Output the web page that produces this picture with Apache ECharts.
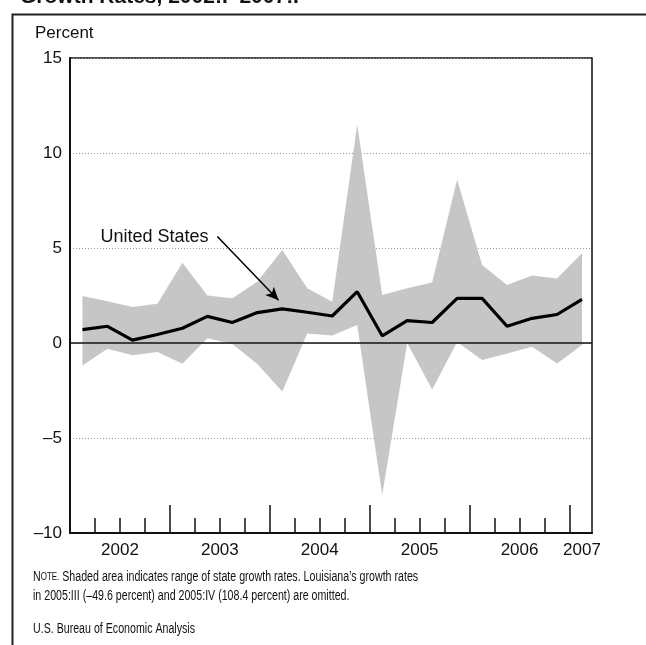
<!DOCTYPE html>
<html>
<head>
<meta charset="utf-8">
<script src="https://cdn.jsdelivr.net/npm/echarts@6/dist/echarts.min.js"></script>
<style>
  html, body { margin: 0; padding: 0; background: #fff; }
  #chart { width: 646px; height: 645px; }
</style>
</head>
<body>
<div id="chart"></div>
<script>
// quarters 2002:I .. 2007:I
var quarters = ['2002:I','2002:II','2002:III','2002:IV','2003:I','2003:II','2003:III','2003:IV',
  '2004:I','2004:II','2004:III','2004:IV','2005:I','2005:II','2005:III','2005:IV',
  '2006:I','2006:II','2006:III','2006:IV','2007:I'];
// United States growth rate
var usValues = [0.7, 0.88, 0.15, 0.45, 0.78, 1.4, 1.08, 1.6, 1.8, 1.62, 1.42, 2.7,
  0.38, 1.18, 1.08, 2.35, 2.35, 0.88, 1.3, 1.5, 2.3];
// range of state growth rates
var stateHigh = [2.47, 2.2, 1.89, 2.07, 4.23, 2.5, 2.35, 3.23, 4.89, 2.88, 2.17, 11.5,
  2.53, 2.88, 3.18, 8.6, 4.1, 3.05, 3.55, 3.4, 4.72];
var stateLow = [-1.18, -0.3, -0.65, -0.47, -1.09, 0.25, -0.05, -1.1, -2.55, 0.5, 0.4, 0.95,
  -8.0, 0.0, -2.45, 0.05, -0.9, -0.55, -0.2, -1.08, -0.1];
var yearLabels = ['2002', '2003', '2004', '2005', '2006', '2007'];
var yearLabelPos = [1.5, 5.5, 9.5, 13.5, 17.5, 20];
var yearTicks = [3.5, 7.5, 11.5, 15.5, 19.5];
var quarterTicks = [0.5, 1.5, 2.5, 4.5, 5.5, 6.5, 8.5, 9.5, 10.5, 12.5, 13.5, 14.5, 16.5, 17.5, 18.5];

var font = '"Liberation Sans", Arial, Helvetica, sans-serif';

var rangeData = quarters.map(function (q, i) { return [i, stateLow[i], stateHigh[i]]; });
var usData = usValues.map(function (v, i) { return [i, v]; });

// whole range band as one polygon, through the axis scales
function renderBand(params, api) {
  if (params.dataIndex !== 0) return;
  var pts = [];
  for (var i = 0; i < stateHigh.length; i++) pts.push(api.coord([i, stateHigh[i]]));
  for (var j = stateLow.length - 1; j >= 0; j--) pts.push(api.coord([j, stateLow[j]]));
  return { type: 'polygon', shape: { points: pts }, style: { fill: '#c6c6c6' } };
}

var noteStyle = { font: '14px ' + font, fill: '#111' };

var chart = echarts.init(document.getElementById('chart'));
var option = {
  animation: false,
  backgroundColor: '#fff',
  grid: { left: 70, right: 54, top: 58, bottom: 112, show: true, borderColor: '#111', borderWidth: 1.5, backgroundColor: 'transparent' },
  xAxis: [{
    type: 'value', min: -0.5, max: 20.4,
    axisLine: { show: true, onZero: false, lineStyle: { color: '#111', width: 2 } },
    axisTick: { show: true, inside: true, length: 15, customValues: quarterTicks, lineStyle: { color: '#111', width: 1.5 } },
    axisLabel: {
      show: true, customValues: yearLabelPos, margin: 9, color: '#111', fontSize: 17, fontFamily: font,
      formatter: function (v) {
        var k = yearLabelPos.indexOf(v);
        return k >= 0 ? yearLabels[k] : '';
      }
    },
    splitLine: { show: false }
  }, {
    type: 'value', min: -0.5, max: 20.4, position: 'bottom',
    axisLine: { show: false, onZero: false },
    axisTick: { show: true, inside: true, length: 28, customValues: yearTicks, lineStyle: { color: '#111', width: 1.5 } },
    axisLabel: { show: false },
    splitLine: { show: false }
  }],
  yAxis: {
    type: 'value', min: -10, max: 15, interval: 5,
    axisLine: { show: true, onZero: false, lineStyle: { color: '#111', width: 2 } },
    axisTick: { show: false },
    axisLabel: {
      color: '#111', fontSize: 17, fontFamily: font, margin: 8,
      formatter: function (v) { return v < 0 ? '\u2013' + Math.abs(v) : String(v); }
    },
    splitLine: { show: true, lineStyle: { color: '#999', type: [1, 2], width: 1 } }
  },
  series: [{
    name: 'range', type: 'custom', renderItem: renderBand, data: rangeData,
    encode: { x: 0, y: [1, 2] }, silent: true, z: 1
  }, {
    name: 'United States', type: 'line', data: usData, symbol: 'none',
    lineStyle: { color: '#000', width: 3.2 }, z: 5,
    markLine: {
      silent: true, symbol: ['none', 'none'], animation: false,
      label: { show: false },
      lineStyle: { color: '#111', width: 1.5, type: 'solid' },
      data: [{ yAxis: 0 }]
    }
  }, {
    name: 'arrow', type: 'line', data: [], symbol: 'none', z: 6,
    markLine: {
      silent: true, symbol: ['none', 'arrow'], symbolSize: [9, 13], animation: false,
      label: { show: false },
      lineStyle: { color: '#000', width: 1.5, type: 'solid' },
      data: [[{ coord: [5.4, 5.6] }, { coord: [7.85, 2.25] }]]
    },
    markPoint: {
      silent: true, symbol: 'rect', symbolSize: 0,
      label: { show: true, position: 'right', distance: 0, color: '#111', fontSize: 18, fontFamily: font, formatter: 'United States' },
      data: [{ coord: [0.72, 5.6] }]
    }
  }],
  graphic: [
    { type: 'rect', left: 10, top: 12, shape: { width: 660, height: 660 }, style: { fill: 'none', stroke: '#222', lineWidth: 2 }, silent: true },
    { type: 'text', left: 20, top: -13, style: { text: 'Growth Rates, 2002:I\u20132007:I', font: 'bold 21px ' + font, fill: '#111' } },
    { type: 'text', left: 35, top: 25, style: { text: 'Percent', font: '17px ' + font, fill: '#111' } },
    { type: 'text', x: 33, y: 570, scaleX: 0.76, style: {
      text: '{a|N}{b|OTE.} Shaded area indicates range of state growth rates. Louisiana\u2019s growth rates',
      font: '14px ' + font, fill: '#111',
      rich: { a: { fontSize: 14, fontFamily: font }, b: { fontSize: 10.5, fontFamily: font } } } },
    { type: 'text', x: 33, y: 589, scaleX: 0.76, style: Object.assign({ text: 'in 2005:III (\u201349.6 percent) and 2005:IV (108.4 percent) are omitted.' }, noteStyle) },
    { type: 'text', x: 33, y: 622, scaleX: 0.76, style: Object.assign({ text: 'U.S. Bureau of Economic Analysis' }, noteStyle) }
  ]
};
chart.setOption(option);
</script>
</body>
</html>
